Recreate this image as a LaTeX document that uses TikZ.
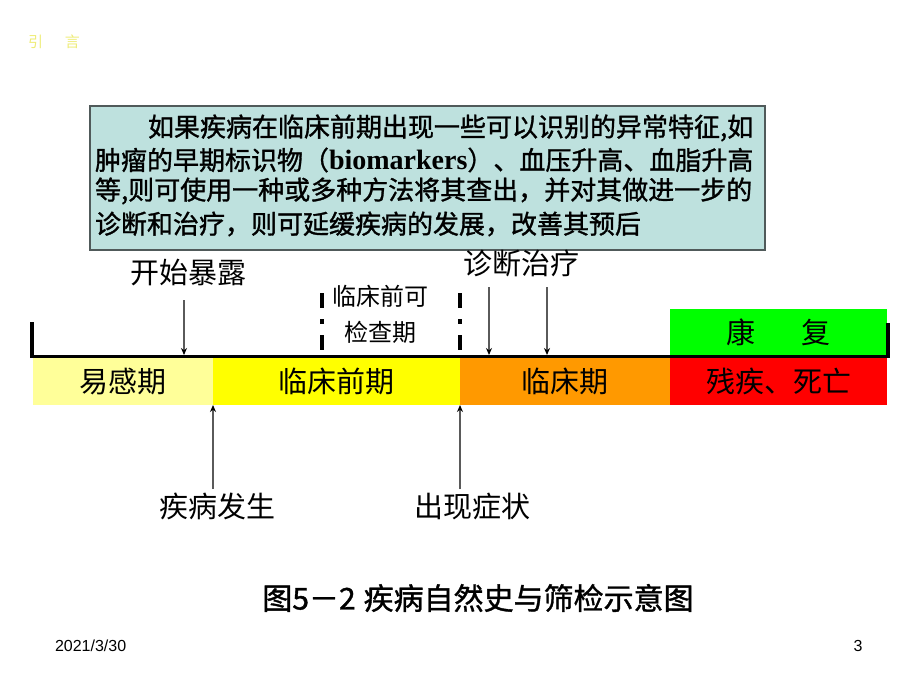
\documentclass[tikz,border=0pt]{standalone}
\usepackage{fontspec}
\usetikzlibrary{arrows.meta}
\newfontfamily\cjk{Noto Sans CJK SC}
\newfontfamily\cjkm[FakeBold=1.2]{Noto Sans CJK SC}
\newfontfamily\ftsans{Liberation Sans}
\newfontfamily\lserif{Liberation Serif}
\definecolor{boxfill}{RGB}{190,225,222}
\definecolor{boxline}{RGB}{80,90,90}
\definecolor{lyellow}{RGB}{255,255,153}
\definecolor{yel}{RGB}{255,255,0}
\definecolor{orng}{RGB}{255,153,0}
\definecolor{rd}{RGB}{255,0,0}
\definecolor{grn}{RGB}{0,255,0}
\definecolor{introcol}{RGB}{238,236,120}
\definecolor{arrgray}{RGB}{90,90,90}
\begin{document}
\begin{tikzpicture}[x=1pt,y=-1pt,
  every node/.style={inner sep=0pt,outer sep=0pt},
  boxtext/.style={font=\cjkm\fontsize{26}{30}\selectfont,anchor=west},
  lbl/.style={font=\cjk\fontsize{29}{34}\selectfont},
  smalllbl/.style={font=\cjk\fontsize{24}{28}\selectfont},
  bar/.style={anchor=north west,minimum height=47pt,font=\cjk\fontsize{29}{34}\selectfont},
  arr/.style={draw=arrgray,line width=1.2pt,-{Stealth[length=7pt,width=6pt,black]}},
  dashline/.style={line width=3.5pt,dash pattern=on 15pt off 11pt on 5pt off 11pt on 15pt off 30pt},
  axisline/.style={line width=3.5pt,black}
]
\useasboundingbox (0,0) rectangle (920,690);
% header
\node[font=\cjk\fontsize{15}{18}\selectfont,text=introcol] (intro) at (54,42) {引\hspace{22pt}言};
% text box
\node[anchor=north west,draw=boxline,line width=1.5pt,fill=boxfill,minimum width=675pt,minimum height=144pt] (box) at (90,106) {};
\node[boxtext] (l1) at (148,128) {如果疾病在临床前期出现一些可以识别的异常特征,如};
\node[boxtext] (l2) at (95,160) {肿瘤的早期标识物（{\lserif\bfseries\fontsize{28}{30}\selectfont biomarkers}）、血压升高、血脂升高};
\node[boxtext] (l3) at (95,191) {等,则可使用一种或多种方法将其查出，并对其做进一步的};
\node[boxtext] (l4) at (95,224) {诊断和治疗，则可延缓疾病的发展，改善其预后};
% green box
\node[anchor=north west,fill=grn,minimum width=217pt,minimum height=46pt,font=\cjk\fontsize{29}{34}\selectfont] (kf) at (670,309) {康\hspace{46pt}复};
% bars
\node[bar,fill=lyellow,minimum width=180pt] (b1) at (33,358) {易感期};
\node[bar,fill=yel,minimum width=247pt] (b2) at (213,358) {临床前期};
\node[bar,fill=orng,minimum width=210pt] (b3) at (460,358) {临床期};
\node[bar,fill=rd,minimum width=217pt] (b4) at (670,358) {残疾、死亡};
% axis
\coordinate (axL) at (32,356.5);
\coordinate (axR) at (888,356.5);
\coordinate (tkL) at (32,322);
\coordinate (tkR) at (888,323);
\draw[axisline] (tkL) -- (axL) -- (axR) -- (tkR);
% top labels
\node[lbl] (kssb) at (188,273) {开始暴露};
\node[lbl] (zdzl) at (521,263) {诊断治疗};
\node[smalllbl] (lcq1) at (380,296) {临床前可};
\node[smalllbl] (lcq2) at (380,332) {检查期};
% dashed lines
\coordinate (d1t) at (322,293);
\coordinate (d1b) at (322,350);
\coordinate (d2t) at (460,293);
\coordinate (d2b) at (460,350);
\draw[dashline] (d1t) -- (d1b);
\draw[dashline] (d2t) -- (d2b);
% down arrows
\coordinate (a1s) at (184,300);
\coordinate (a1e) at (184,355);
\coordinate (a2s) at (489,287);
\coordinate (a2e) at (489,355);
\coordinate (a3s) at (547,287);
\coordinate (a3e) at (547,355);
\draw[arr] (a1s) -- (a1e);
\draw[arr] (a2s) -- (a2e);
\draw[arr] (a3s) -- (a3e);
% bottom labels and up arrows
\node[lbl] (jbfs) at (217,506) {疾病发生};
\node[lbl] (cxzz) at (472,506) {出现症状};
\coordinate (u1s) at (213,489);
\coordinate (u2s) at (460,489);
\draw[arr] (u1s) -- (b2.south west);
\draw[arr] (u2s) -- (b3.south west);
% caption
\node[font=\cjkm\fontsize{30}{34}\selectfont] (cap) at (478,598) {图5－2\hspace{8pt}疾病自然史与筛检示意图};
% footer
\node[font=\ftsans\fontsize{16}{18}\selectfont,anchor=west] (date) at (55,646) {2021/3/30};
\node[font=\ftsans\fontsize{16}{18}\selectfont] (pg) at (858,646) {3};
\end{tikzpicture}
\end{document}
